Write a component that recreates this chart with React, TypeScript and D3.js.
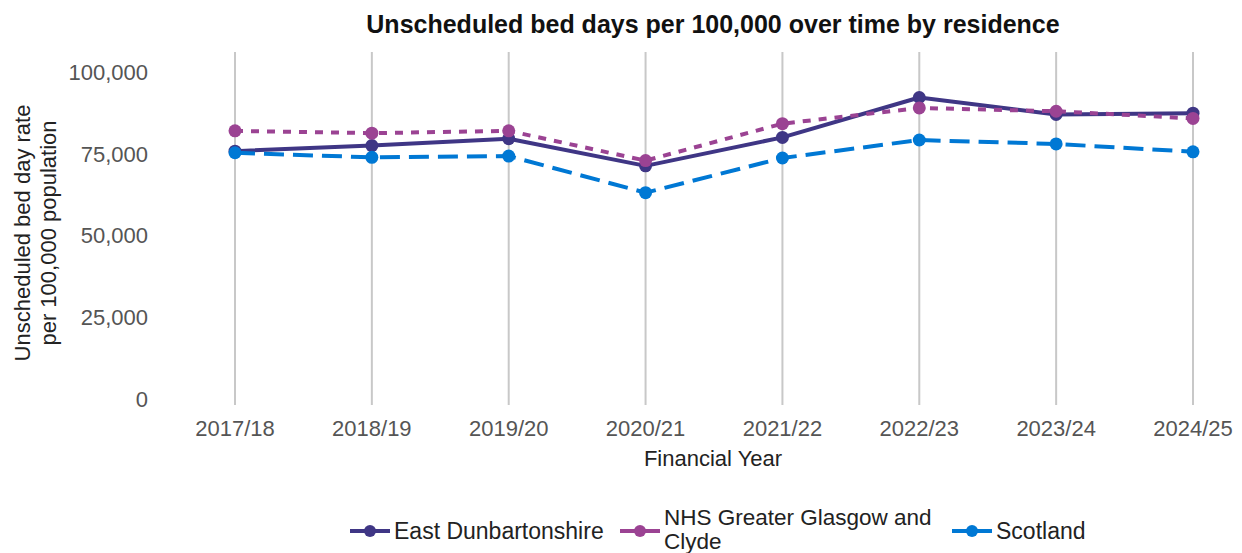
import React from "react";
import * as d3 from "d3";

const years = ["2017/18", "2018/19", "2019/20", "2020/21", "2021/22", "2022/23", "2023/24", "2024/25"];
const eastDunbartonshire = [75800, 77500, 79600, 71300, 80000, 92200, 87000, 87400];
const nhsGGC = [82000, 81300, 82000, 72900, 84200, 89000, 88000, 85800];
const scotland = [75300, 73900, 74300, 63100, 73700, 79200, 78000, 75600];
const yTicks = [0, 25000, 50000, 75000, 100000];

const seriesNames = ["East Dunbartonshire", "NHS Greater Glasgow and Clyde", "Scotland"];
const seriesValues = [eastDunbartonshire, nhsGGC, scotland];
const seriesColors = ["#3f3685", "#9b4393", "#0078d4"];
const seriesDash = ["none", "8,8", "20,9"];

const W = 1242;
const H = 553;
const FONT = "'Liberation Sans', Arial, Helvetica, sans-serif";

export default function App() {
  const x = d3.scalePoint<string>().domain(years).range([235, 1193]);
  const y = d3.scaleLinear().domain([0, 100000]).range([399, 72]);
  const plotTop = 52;
  const plotBottom = 405;
  const fmt = d3.format(",");
  const line = d3
    .line<number>()
    .x((_, i) => x(years[i]) as number)
    .y((d) => y(d));

  const legendX = [350, 620, 952];
  const legendY = 531;

  return (
    <svg width={W} height={H} style={{ position: "absolute", left: 0, top: 0, background: "#fff" }} fontFamily={FONT}>
      <rect width={W} height={H} fill="#fff" />
      <text x={713} y={33} textAnchor="middle" fontSize={25} fontWeight="bold" fill="#111">
        Unscheduled bed days per 100,000 over time by residence
      </text>

      {years.map((yr) => (
        <line key={yr} x1={x(yr)} x2={x(yr)} y1={plotTop} y2={plotBottom} stroke="#c8c8c8" strokeWidth={2} />
      ))}

      {yTicks.map((t) => (
        <text key={t} x={148} y={y(t)} dy="0.36em" textAnchor="end" fontSize={22} fill="#555">
          {fmt(t)}
        </text>
      ))}

      {years.map((yr) => (
        <text key={yr} x={x(yr)} y={436} textAnchor="middle" fontSize={22} fill="#555">
          {yr}
        </text>
      ))}

      <text x={713} y={466} textAnchor="middle" fontSize={22} fill="#222">
        Financial Year
      </text>

      <g transform="translate(0,233) rotate(-90)" fontSize={22} fill="#222">
        <text x={0} y={30} textAnchor="middle">Unscheduled bed day rate</text>
        <text x={0} y={56} textAnchor="middle">per 100,000 population</text>
      </g>

      {seriesValues.map((vals, si) => (
        <g key={seriesNames[si]}>
          <path
            d={line(vals) ?? ""}
            fill="none"
            stroke={seriesColors[si]}
            strokeWidth={4}
            strokeDasharray={seriesDash[si]}
            strokeLinejoin="round"
          />
          {vals.map((v, i) => (
            <circle key={i} cx={x(years[i])} cy={y(v)} r={6.5} fill={seriesColors[si]} />
          ))}
        </g>
      ))}

      {seriesNames.map((name, si) => {
        const lx = legendX[si];
        const lines = si === 1 ? ["NHS Greater Glasgow and", "Clyde"] : [name];
        return (
          <g key={name}>
            <line x1={lx} x2={lx + 40} y1={legendY} y2={legendY} stroke={seriesColors[si]} strokeWidth={4} />
            <circle cx={lx + 20} cy={legendY} r={6} fill={seriesColors[si]} />
            {lines.length === 1 ? (
              <text x={lx + 44} y={legendY} dy="0.36em" fontSize={23} fill="#222">
                {lines[0]}
              </text>
            ) : (
              lines.map((l, k) => (
                <text key={k} x={lx + 44} y={517 + k * 24} dy="0.36em" fontSize={22.5} fill="#222">
                  {l}
                </text>
              ))
            )}
          </g>
        );
      })}
    </svg>
  );
}
